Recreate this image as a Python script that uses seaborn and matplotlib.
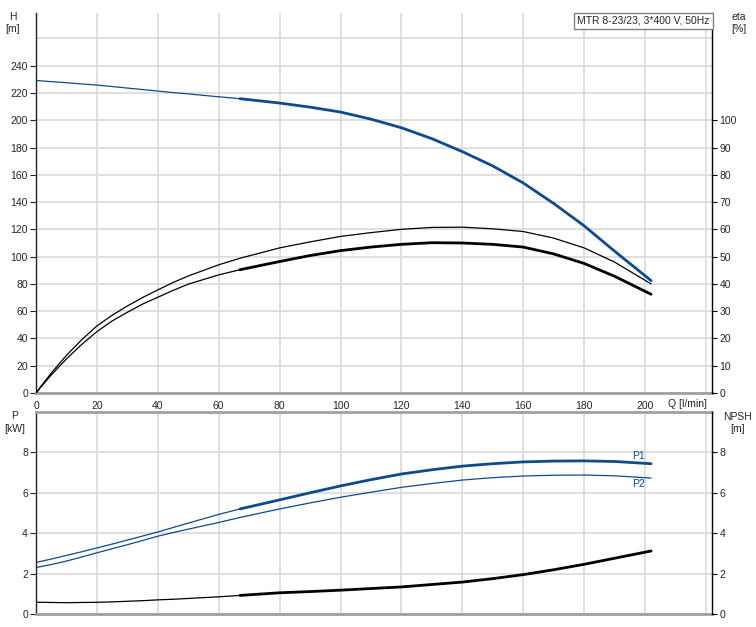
import matplotlib
matplotlib.use('Agg')
import matplotlib.pyplot as plt
import pandas as pd
import seaborn as sns

# flow points, l/min
q = [0, 2, 5, 10, 15, 20, 25, 30, 35, 40, 45, 50, 60, 67, 80, 90, 100, 110, 120, 130,
     140, 150, 160, 170, 180, 190, 202]
# head, m
head = [229.2, 228.8, 228.3, 227.5, 226.6, 225.8, 224.7, 223.6, 222.5, 221.4, 220.3, 219.3,
        217.2, 215.8, 212.6, 209.6, 206.0, 200.8, 194.5, 186.5, 177.0, 166.5, 154.0,
        139.0, 122.6, 104.0, 82.4]
# efficiencies, %
eta_pump = [0, 3.0, 7.3, 13.8, 19.5, 24.6, 28.5, 31.9, 35.0, 37.8, 40.5, 42.9, 47.0, 49.4,
            53.2, 55.4, 57.4, 58.8, 60.0, 60.7, 60.8, 60.2, 59.2, 56.8, 53.2, 48.0, 40.0]
eta_total = [0, 2.7, 6.6, 12.5, 17.8, 22.5, 26.4, 29.6, 32.6, 35.1, 37.6, 39.9, 43.3, 45.2,
             48.2, 50.4, 52.2, 53.5, 54.5, 55.1, 55.0, 54.5, 53.5, 51.0, 47.5, 42.8, 36.2]
# power, kW
p1 = [2.55, 2.62, 2.72, 2.9, 3.08, 3.27, 3.46, 3.66, 3.86, 4.06, 4.28, 4.5, 4.93, 5.2,
      5.65, 6.0, 6.34, 6.65, 6.93, 7.14, 7.32, 7.44, 7.53, 7.57, 7.58, 7.55, 7.44]
p2 = [2.3, 2.36, 2.45, 2.62, 2.82, 3.03, 3.23, 3.43, 3.64, 3.85, 4.03, 4.2, 4.53, 4.78,
      5.2, 5.5, 5.78, 6.03, 6.27, 6.46, 6.63, 6.75, 6.83, 6.87, 6.88, 6.84, 6.73]
# npsh, m
npsh = [0.58, 0.58, 0.57, 0.56, 0.57, 0.58, 0.6, 0.63, 0.66, 0.7, 0.73, 0.77, 0.85, 0.92,
        1.05, 1.11, 1.18, 1.26, 1.34, 1.46, 1.58, 1.75, 1.95, 2.19, 2.46, 2.76, 3.12]
q_min = 67  # start of the recommended range (drawn thick)

blue = '#0c4b8e'
grid_c = '#d9d9d9'
frame_c = '#a0a0a0'
fs = 7.5

sns.set_style('white')
plt.rcParams['font.family'] = ['Liberation Sans', 'DejaVu Sans']
plt.rcParams['font.size'] = fs
plt.rcParams['lines.solid_joinstyle'] = 'round'

df = pd.DataFrame({'q': q, 'head': head, 'eta_pump': eta_pump, 'eta_total': eta_total,
                   'p1': p1, 'p2': p2, 'npsh': npsh})
duty = df[df['q'] >= q_min]

fig = plt.figure(figsize=(7.56, 6.27), dpi=100)
W, H = 756, 627
ax_h = fig.add_axes([36 / W, 1 - 393 / H, 676 / W, 380.5 / H])
ax_p = fig.add_axes([36 / W, 1 - 614 / H, 676 / W, 202 / H])
ax_eta = ax_h.twinx()
ax_npsh = ax_p.twinx()


def line(ax, data, col, color, lw):
    sns.lineplot(data=data, x='q', y=col, ax=ax, color=color, lw=lw,
                 estimator=None, sort=False, legend=False)
    ax.set_xlabel('')
    ax.set_ylabel('')


# upper chart: head and efficiency
line(ax_h, df, 'head', blue, 0.9)
line(ax_h, duty, 'head', blue, 2.0)
line(ax_eta, df, 'eta_pump', 'black', 0.9)
line(ax_eta, df, 'eta_total', 'black', 0.9)
line(ax_eta, duty, 'eta_total', 'black', 2.0)

# lower chart: power and npsh
line(ax_p, df, 'p1', blue, 0.9)
line(ax_p, duty, 'p1', blue, 2.0)
line(ax_p, df, 'p2', blue, 0.9)
line(ax_npsh, df, 'npsh', 'black', 0.9)
line(ax_npsh, duty, 'npsh', 'black', 2.0)

ax_p.text(q[-1] - 4, p1[-1] + 0.38, 'P1', color=blue, ha='center', va='center', fontsize=fs)
ax_p.text(q[-1] - 4, p2[-1] - 0.3, 'P2', color=blue, ha='center', va='center', fontsize=fs)

for ax in (ax_h, ax_p, ax_eta, ax_npsh):
    ax.set_xlim(0, 222)
    ax.set_xticks(range(0, 201, 20))
    ax.set_xticks([220], minor=True)

ax_h.set_ylim(0, 279)
ax_eta.set_ylim(0, 139.5)
ax_h.set_yticks(range(0, 241, 20))
ax_h.set_yticks([260], minor=True)
ax_eta.set_yticks(range(0, 101, 10))
ax_p.set_ylim(0, 10)
ax_npsh.set_ylim(0, 10)
ax_p.set_yticks(range(0, 9, 2))
ax_npsh.set_yticks(range(0, 9, 2))

for ax in (ax_h, ax_p):
    ax.grid(True, which='both', color=grid_c, lw=1.2)
    ax.set_axisbelow(True)
    ax.spines['left'].set_color('#222222')
    ax.spines['left'].set_linewidth(1)
    ax.spines['right'].set_visible(False)
    ax.spines['bottom'].set_color(frame_c)
    ax.spines['bottom'].set_linewidth(2)
    ax.tick_params(axis='y', which='major', length=4.3, width=0.8, color='#222222', pad=1.5,
                   labelsize=fs, direction='out')
    ax.tick_params(which='minor', length=0)
    ax.tick_params(axis='x', which='major', length=3, width=0.8, color='#444444', pad=3,
                   labelsize=fs)

ax_h.spines['top'].set_visible(False)
ax_p.spines['top'].set_color(frame_c)
ax_p.spines['top'].set_linewidth(2)
ax_p.tick_params(axis='x', labelbottom=False)

for ax in (ax_eta, ax_npsh):
    for s in ('left', 'top', 'bottom'):
        ax.spines[s].set_visible(False)
    ax.spines['right'].set_color('black')
    ax.spines['right'].set_linewidth(1)
    ax.tick_params(axis='y', length=3.5, width=0.8, color='black', pad=2, labelsize=fs)
    ax.tick_params(axis='x', which='both', length=0, labelbottom=False)

# axis titles
fig.text(12.5 / W, 1 - 17 / H, 'H', ha='center', va='center', fontsize=fs)
fig.text(12.5 / W, 1 - 29 / H, '[m]', ha='center', va='center', fontsize=fs)
fig.text(738.5 / W, 1 - 17 / H, 'eta', ha='center', va='center', fontsize=fs)
fig.text(738.5 / W, 1 - 29 / H, '[%]', ha='center', va='center', fontsize=fs)
fig.text(15 / W, 1 - 416 / H, 'P', ha='center', va='center', fontsize=fs)
fig.text(15 / W, 1 - 429.5 / H, '[kW]', ha='center', va='center', fontsize=fs)
fig.text(737.5 / W, 1 - 417 / H, 'NPSH', ha='center', va='center', fontsize=fs)
fig.text(737.5 / W, 1 - 429.5 / H, '[m]', ha='center', va='center', fontsize=fs)
fig.text(707 / W, 1 - 404 / H, 'Q [l/min]', ha='right', va='center', fontsize=fs)

fig.text(709.5 / W, 1 - 20.7 / H, 'MTR 8-23/23, 3*400 V, 50Hz', ha='right', va='center',
         fontsize=fs, bbox={'boxstyle': 'square,pad=0.3', 'facecolor': 'white',
                            'edgecolor': '#808080', 'linewidth': 1})

fig.savefig('out.png', dpi=100)
